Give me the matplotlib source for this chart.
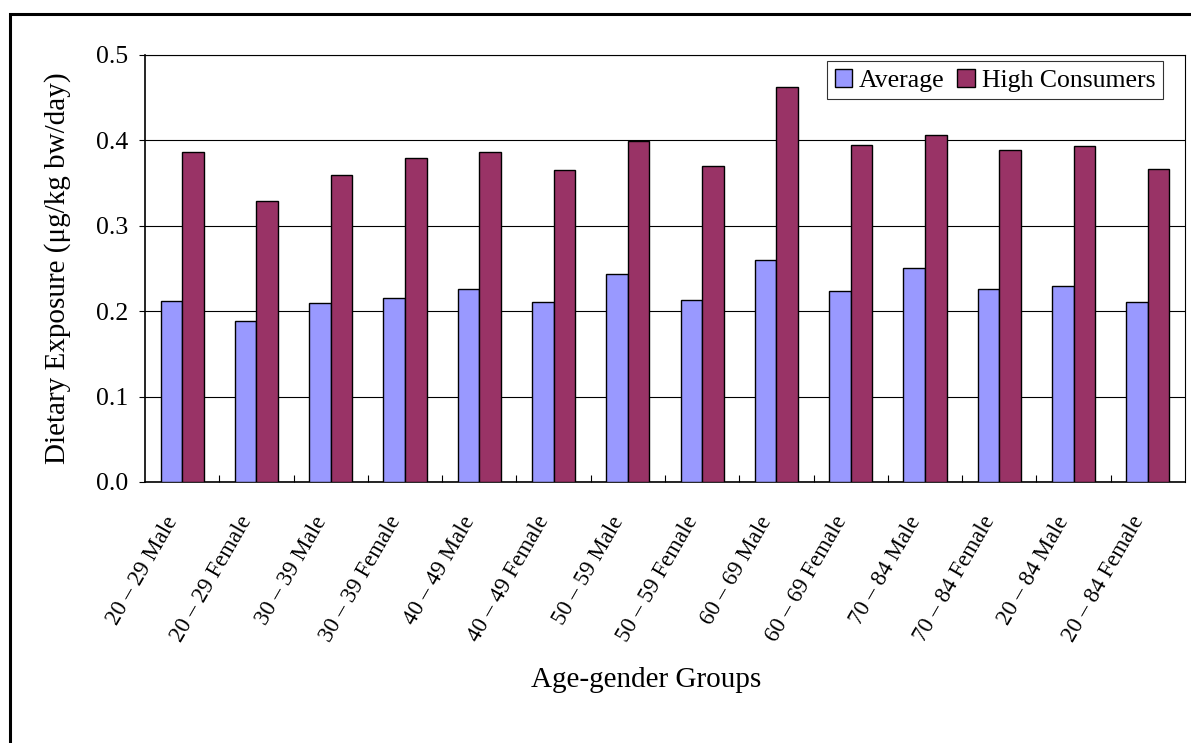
import matplotlib.pyplot as plt
import numpy as np
from matplotlib.patches import Rectangle
from matplotlib.ticker import MultipleLocator, FixedLocator

plt.rcParams['font.family'] = ['Liberation Serif', 'DejaVu Serif']

grupos = ['20 – 29 Male', '20 – 29 Female', '30 – 39 Male', '30 – 39 Female',
          '40 – 49 Male', '40 – 49 Female', '50 – 59 Male', '50 – 59 Female',
          '60 – 69 Male', '60 – 69 Female', '70 – 84 Male', '70 – 84 Female',
          '20 – 84 Male', '20 – 84 Female']
media = [0.212, 0.188, 0.210, 0.215, 0.226, 0.211, 0.243, 0.213,
         0.260, 0.224, 0.251, 0.226, 0.230, 0.211]
alto_consumo = [0.386, 0.329, 0.359, 0.379, 0.386, 0.365, 0.399, 0.370,
                0.462, 0.395, 0.406, 0.389, 0.394, 0.367]

x = np.arange(len(grupos))
largura = 0.29

fig = plt.figure(figsize=(11.91, 7.43), dpi=100)
ax = fig.add_axes([145 / 1191, 1 - 482 / 743, 1040 / 1191, 427 / 743])

# moldura externa
fig.patches.append(Rectangle((9.5 / 1191, -0.2), 1.2, 1.2 - 13.5 / 743,
                             transform=fig.transFigure, fill=False,
                             edgecolor='black', linewidth=2.2))

ax.bar(x - largura / 2, media, largura, color='#9999FF', edgecolor='black',
       linewidth=1.0, label='Average', zorder=3)
ax.bar(x + largura / 2, alto_consumo, largura, color='#993366', edgecolor='black',
       linewidth=1.0, label='High Consumers', zorder=3)

ax.set_xlim(-0.5, len(grupos) - 0.5)
ax.set_ylim(0, 0.5)
ax.yaxis.set_major_locator(MultipleLocator(0.1))
ax.yaxis.set_major_formatter(plt.FuncFormatter(lambda v, p: f'{v:.1f}'))
ax.grid(axis='y', color='black', linewidth=0.8, zorder=0)

ax.set_xticks(x)
ax.set_xticklabels(grupos, rotation=60, ha='right', fontsize=16.5)
ax.tick_params(axis='x', which='major', length=0, pad=22)
ax.xaxis.set_minor_locator(FixedLocator(np.arange(0.5, len(grupos) - 1, 1)))
ax.tick_params(axis='x', which='minor', direction='in', length=5, width=0.8)
ax.tick_params(axis='y', labelsize=18.5, length=4, width=0.8, pad=8)

for lado in ['left', 'bottom']:
    ax.spines[lado].set_linewidth(1.2)
for lado in ['top', 'right']:
    ax.spines[lado].set_linewidth(0.8)

ax.set_ylabel('Dietary Exposure (μg/kg bw/day)', fontsize=21, labelpad=18)
fig.text(646 / 1191, 1 - 680 / 743, 'Age-gender Groups', fontsize=21,
         ha='center', va='center')

leg = ax.legend(ncol=2, loc='upper right',
                bbox_to_anchor=(1163 / 1191, 1 - 61 / 743),
                bbox_transform=fig.transFigure, fontsize=18.5,
                frameon=True, fancybox=False, edgecolor='black',
                handlelength=0.7, handleheight=0.7, handletextpad=0.25,
                columnspacing=0.5, borderpad=0.3, borderaxespad=0)
leg.get_frame().set_linewidth(0.8)

plt.savefig('out.png', dpi=100)
